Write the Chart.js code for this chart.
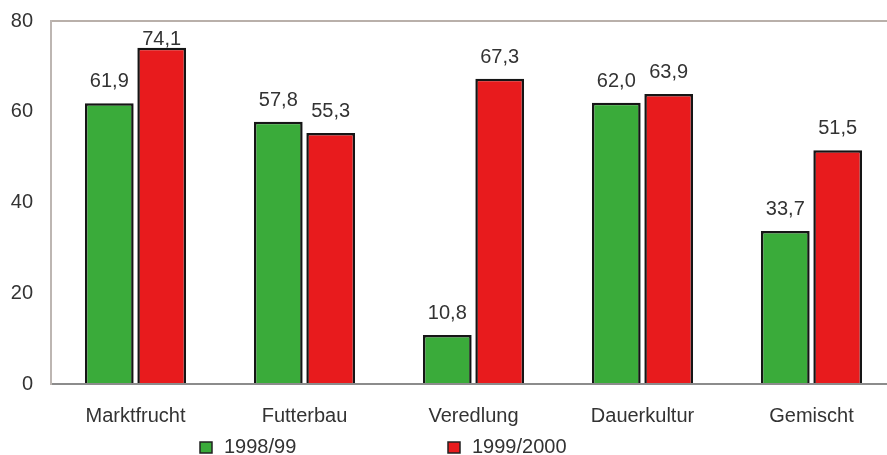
<!DOCTYPE html>
<html>
<head>
<meta charset="utf-8">
<script src="https://cdn.jsdelivr.net/npm/chart.js@4"></script>
<style>
    html, body { margin: 0; padding: 0; background: #fff; overflow: hidden; }
    #wrap { width: 900px; height: 462px; margin-top: -7px; }
</style>
</head>
<body>
<div id="wrap"><canvas id="chart"></canvas></div>
<script>
// --- data ---
const categories = ["Marktfrucht", "Futterbau", "Veredlung", "Dauerkultur", "Gemischt"];
const seriesNames = ["1998/99", "1999/2000"];
const values9899 = [61.9, 57.8, 10.8, 62.0, 33.7];
const values9900 = [74.1, 55.3, 67.3, 63.9, 51.5];
const yTicks = [0, 20, 40, 60, 80];

const GREEN = '#3aab3a';
const RED = '#e81b1d';
const FONT = "'Liberation Sans', Arial, sans-serif";

// value labels above bars, with german decimal comma
const valueLabels = {
    id: 'valueLabels',
    afterDatasetsDraw(chart) {
        const ctx = chart.ctx;
        ctx.save();
        ctx.font = '20px ' + FONT;
        ctx.fillStyle = '#333';
        ctx.textAlign = 'center';
        ctx.textBaseline = 'alphabetic';
        chart.data.datasets.forEach((ds, i) => {
            chart.getDatasetMeta(i).data.forEach((bar, j) => {
                const txt = ds.data[j].toFixed(1).replace('.', ',');
                const y = Math.max(bar.y - 16, chart.chartArea.top + 24);
                ctx.fillText(txt, bar.x, y);
            });
        });
        ctx.restore();
    }
};

// legend drawn at the fixed spot of the original
const bottomLegend = {
    id: 'bottomLegend',
    afterDraw(chart) {
        const ctx = chart.ctx;
        const spots = [200, 448];
        const y = chart.height - 2;
        ctx.save();
        ctx.font = '20px ' + FONT;
        ctx.textBaseline = 'alphabetic';
        chart.data.datasets.forEach((ds, i) => {
            const x = spots[i];
            ctx.fillStyle = ds.backgroundColor;
            ctx.fillRect(x, y - 11, 12, 11);
            ctx.strokeStyle = '#222';
            ctx.lineWidth = 1.5;
            ctx.strokeRect(x, y - 11, 12, 11);
            ctx.fillStyle = '#333';
            ctx.fillText(ds.label, x + 24, y);
        });
        ctx.restore();
    }
};

new Chart(document.getElementById('chart'), {
    type: 'bar',
    data: {
        labels: categories,
        datasets: [
            { label: seriesNames[0], data: values9899, backgroundColor: GREEN, borderColor: '#151515', borderWidth: 2.5 },
            { label: seriesNames[1], data: values9900, backgroundColor: RED, borderColor: '#151515', borderWidth: 2.5 }
        ]
    },
    options: {
        responsive: true,
        maintainAspectRatio: false,
        animation: false,
        categoryPercentage: 0.62,
        barPercentage: 0.93,
        layout: { padding: { top: 21, right: 4, bottom: 27, left: 10 } },
        plugins: { legend: { display: false }, tooltip: { enabled: false } },
        scales: {
            x: {
                grid: { display: false },
                border: { color: '#8c8c8c', width: 2 },
                afterFit: axis => { axis.height = 44; },
                ticks: { color: '#333', font: { family: FONT, size: 20 }, padding: 12 }
            },
            y: {
                min: 0,
                max: 80,
                afterBuildTicks: axis => { axis.ticks = yTicks.map(v => ({ value: v })); },
                afterFit: axis => { axis.width = 41; },
                grid: {
                    drawTicks: false,
                    color: c => c.tick && c.tick.value === 80 ? '#b9b0aa' : 'rgba(0,0,0,0)',
                    lineWidth: 2
                },
                border: { color: '#bdb6b2', width: 2 },
                ticks: { color: '#333', font: { family: FONT, size: 20, lineHeight: 1 }, padding: 18 }
            }
        }
    },
    plugins: [valueLabels, bottomLegend]
});
</script>
</body>
</html>
